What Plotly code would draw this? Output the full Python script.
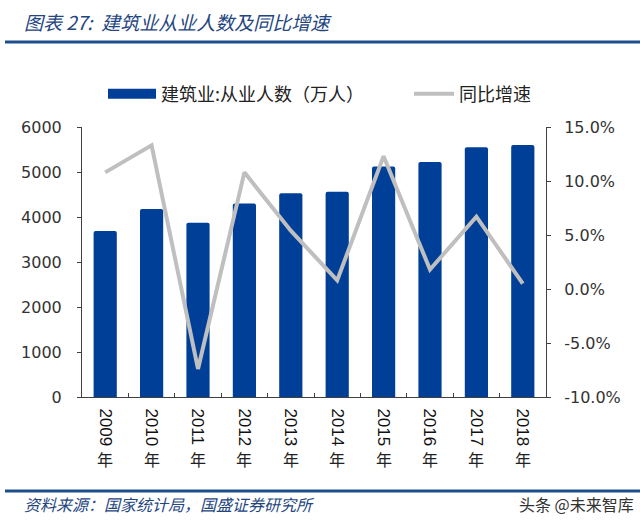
import plotly.graph_objects as go

years = ["2009", "2010", "2011", "2012", "2013", "2014", "2015", "2016", "2017", "2018"]
employees = [3690, 4180, 3870, 4300, 4530, 4560, 5120, 5220, 5550, 5600]
growth = [10.8, 13.3, -7.4, 10.8, 5.4, 0.8, 12.3, 1.8, 6.7, 0.5]

left_ticks = [0, 1000, 2000, 3000, 4000, 5000, 6000]
right_ticks = [-10, -5, 0, 5, 10, 15]
right_labels = ["-10.0%", "-5.0%", "0.0%", "5.0%", "10.0%", "15.0%"]

BAR = "#003f98"
LINE = "#bfbfbf"
AX = "#404040"
NUM_FONT = "DejaVu Sans"
CJK = "Noto Sans CJK SC"
TITLE_BLUE = "#24467f"


def px_to_paper_x(px):
    return (px - 82) / (640 - 82 - 94)


def px_to_paper_y(py):
    return (397 - py) / (397 - 127)


fig = go.Figure()
fig.add_trace(go.Bar(x=years, y=employees, marker=dict(color=BAR, cornerradius=2, line=dict(width=0)),
                     width=0.5, showlegend=False, name="建筑业:从业人数（万人）"))
# legend entry mimicking the wide bar swatch
fig.add_trace(go.Scatter(x=[years[0]], y=[None], mode="lines", line=dict(color=BAR, width=12),
                         name="建筑业:从业人数（万人）", showlegend=True, hoverinfo="skip",
                         legend="legend"))
fig.add_trace(go.Scatter(x=years, y=growth, mode="lines", line=dict(color=LINE, width=4),
                         name="同比增速", yaxis="y2", legend="legend2"))

for i, yr in enumerate(years):
    fig.add_annotation(x=i, xref="x", y=px_to_paper_y(459), yref="paper", text="年", showarrow=False,
                       font=dict(family=CJK, size=16, color="#222"), yanchor="middle")

fig.update_layout(
    width=640, height=526,
    margin=dict(l=82, r=94, t=127, b=129),
    plot_bgcolor="white", paper_bgcolor="white",
    xaxis=dict(type="category", categoryorder="array", categoryarray=years, range=[-0.5, 9.5],
               tickangle=90, ticks="inside", tickson="boundaries", ticklen=4,
               tickcolor=AX, showline=True, linecolor=AX, linewidth=1, showgrid=False,
               tickfont=dict(family="Liberation Sans", size=17, color="#111"),
               ticklabelstandoff=7),
    yaxis=dict(range=[0, 6000], tickvals=left_ticks, ticks="outside", ticklen=4, tickcolor=AX,
               showline=True, linecolor=AX, linewidth=1, showgrid=False, zeroline=False,
               tickfont=dict(family=NUM_FONT, size=16, color="#333"), ticklabelstandoff=12),
    yaxis2=dict(range=[-10, 15], tickvals=right_ticks, ticktext=right_labels, overlaying="y",
                side="right", ticks="outside", ticklen=4, tickcolor=AX, showline=True,
                linecolor=AX, linewidth=1, showgrid=False, zeroline=False,
                tickfont=dict(family=NUM_FONT, size=16, color="#333"), ticklabelstandoff=10),
    legend=dict(orientation="h", x=px_to_paper_x(103), y=px_to_paper_y(94), xanchor="left",
                yanchor="middle", font=dict(family=CJK, size=18, color="#222"),
                itemwidth=48, bgcolor="rgba(0,0,0,0)"),
    legend2=dict(orientation="h", x=px_to_paper_x(409), y=px_to_paper_y(94), xanchor="left",
                 yanchor="middle", font=dict(family=CJK, size=18, color="#222"),
                 itemwidth=40, bgcolor="rgba(0,0,0,0)"),
    shapes=[
        dict(type="line", xref="paper", yref="paper", x0=px_to_paper_x(5), x1=px_to_paper_x(640),
             y0=px_to_paper_y(42), y1=px_to_paper_y(42), line=dict(color="#1f4e8c", width=3)),
        dict(type="line", xref="paper", yref="paper", x0=px_to_paper_x(5), x1=px_to_paper_x(640),
             y0=px_to_paper_y(491), y1=px_to_paper_y(491), line=dict(color="#1f4e8c", width=3)),
    ],
)

fig.add_annotation(x=px_to_paper_x(22), y=px_to_paper_y(21), xref="paper", yref="paper",
                   text="<i>图表 27:  建筑业从业人数及同比增速</i>", showarrow=False,
                   xanchor="left", yanchor="middle",
                   font=dict(family=CJK, size=19, color=TITLE_BLUE))
fig.add_annotation(x=px_to_paper_x(22), y=px_to_paper_y(504), xref="paper", yref="paper",
                   text="<i>资料来源：国家统计局，国盛证券研究所</i>", showarrow=False,
                   xanchor="left", yanchor="middle",
                   font=dict(family=CJK, size=16, color=TITLE_BLUE))
fig.add_annotation(x=px_to_paper_x(636), y=px_to_paper_y(504), xref="paper", yref="paper",
                   text="头条 @未来智库", showarrow=False,
                   xanchor="right", yanchor="middle",
                   font=dict(family=CJK, size=16, color="#333"))

fig.write_html("out.html")
